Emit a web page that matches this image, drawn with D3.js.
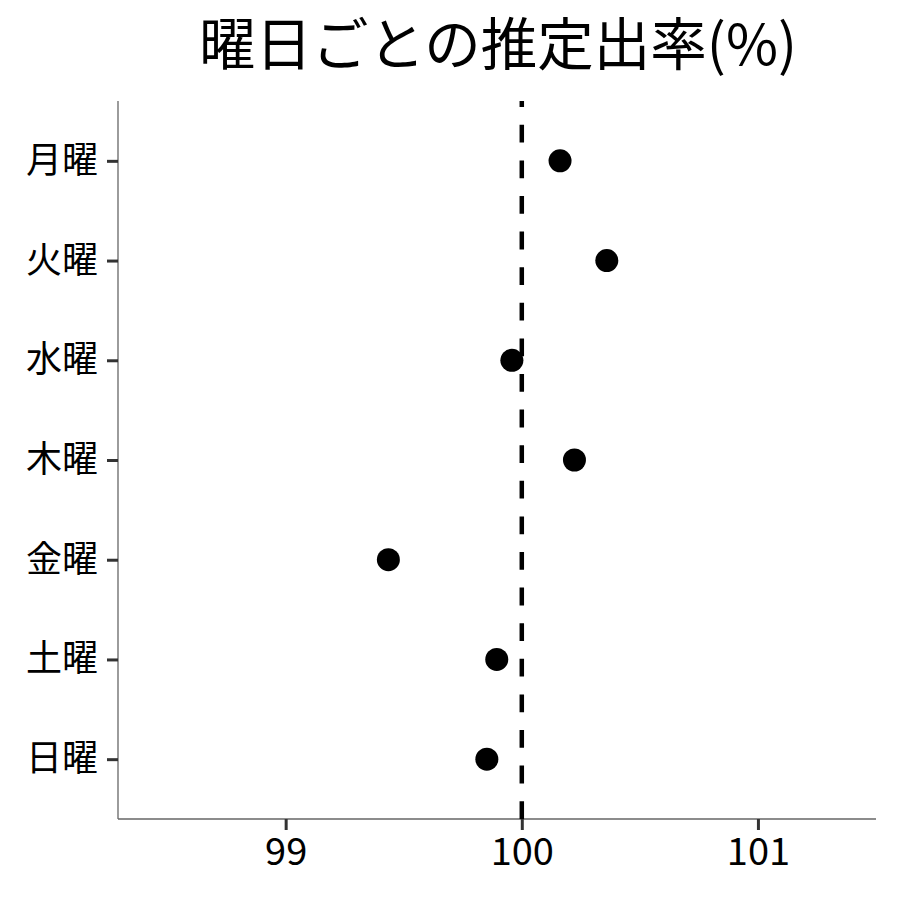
<!DOCTYPE html>
<html><head><meta charset="utf-8">
<script src="https://cdn.jsdelivr.net/npm/d3@7"></script>
<style>body{margin:0;background:#fff}svg{display:block}</style>
</head><body>
<svg id="c" width="900" height="900"></svg>
<script>
const days = ["月曜","火曜","水曜","木曜","金曜","土曜","日曜"];
const rates = [100.162, 100.360, 99.958, 100.223, 99.435, 99.894, 99.852];
const xTicks = [99, 100, 101];
const refValue = 100;
const title = "曜日ごとの推定出率(%)";

const font = "'Noto Sans CJK JP', 'Noto Sans', sans-serif";
const svg = d3.select("#c");
const L = 118, R = 876, T = 101, B = 819;

const x = d3.scaleLinear().domain([98.29, 101.5]).range([L, R]);
const y = d3.scalePoint().domain(days).range([T, B]).padding(0.6);

svg.append("text").attr("x", 498).attr("y", 65).attr("text-anchor", "middle")
  .attr("font-family", font).attr("font-size", 56.5).attr("fill", "#000").text(title);

const ya = svg.append("g").attr("transform", `translate(${L},0)`)
  .call(d3.axisLeft(y).tickSize(11).tickPadding(9));
ya.select(".domain").attr("stroke", "#666").attr("stroke-width", 1.3).attr("d", `M0,${T}V${B}`);
ya.selectAll(".tick line").attr("stroke", "#333").attr("stroke-width", 3);
ya.selectAll(".tick text").attr("font-family", font).attr("font-size", 36).attr("fill", "#000");

const xa = svg.append("g").attr("transform", `translate(0,${B})`)
  .call(d3.axisBottom(x).tickValues(xTicks).tickFormat(d3.format("d")).tickSize(11).tickPadding(8));
xa.select(".domain").attr("stroke", "#666").attr("stroke-width", 1.3).attr("d", `M${L},0H${R}`);
xa.selectAll(".tick line").attr("stroke", "#333").attr("stroke-width", 3);
xa.selectAll(".tick text").attr("font-family", font).attr("font-size", 38).attr("fill", "#000");

svg.append("line").attr("x1", x(refValue)).attr("x2", x(refValue)).attr("y1", B).attr("y2", T)
  .attr("stroke", "#000").attr("stroke-width", 4.5).attr("stroke-dasharray", "17.8,17.8");

svg.append("g").selectAll("circle").data(days).join("circle")
  .attr("cx", (d, i) => x(rates[i])).attr("cy", d => y(d)).attr("r", 11.5).attr("fill", "#000");
</script>
</body></html>
